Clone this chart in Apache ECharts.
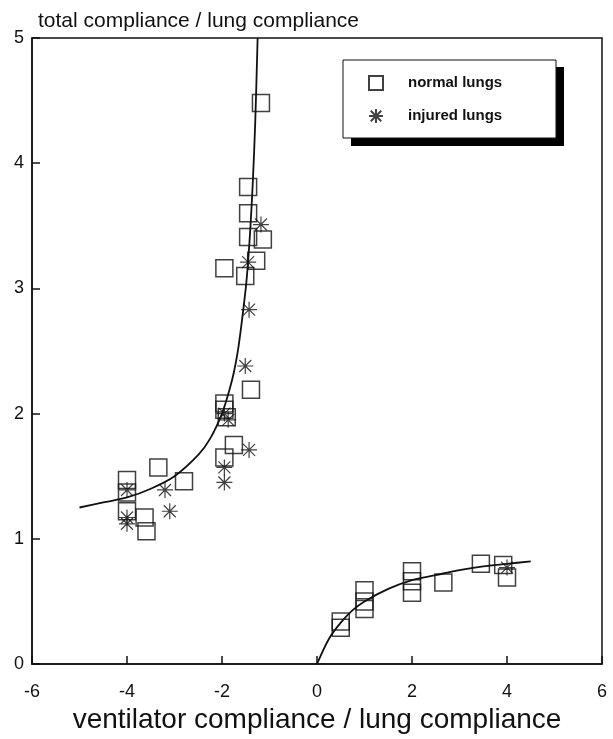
<!DOCTYPE html>
<html><head><meta charset="utf-8">
<script src="https://cdn.jsdelivr.net/npm/echarts@6/dist/echarts.min.js"></script>
<style>html,body{margin:0;padding:0;background:#fff}#c{width:613px;height:739px}</style>
</head><body><div id="c"></div>
<script>
var xTicks = [-6, -4, -2, 0, 2, 4, 6];
var yTicks = [0, 1, 2, 3, 4, 5];
var normalX = [-1.18,-1.45,-1.45,-1.45,-1.14,-1.28,-1.95,-1.51,-1.39,-1.95,-1.95,-1.9,-1.75,-1.95,-4,-4,-4,-3.34,-2.8,-3.63,-3.59,0.5,0.5,1,1,1,2,2,2,2.66,3.45,3.92,4];
var normalY = [4.48,3.81,3.6,3.41,3.39,3.22,3.16,3.1,2.19,2.08,2.03,1.97,1.75,1.65,1.47,1.37,1.22,1.57,1.46,1.17,1.06,0.34,0.29,0.59,0.5,0.44,0.74,0.66,0.57,0.65,0.8,0.79,0.69];
var injuredX = [-1.18,-1.45,-1.43,-1.51,-1.95,-1.87,-1.43,-1.95,-1.95,-3.2,-3.1,-4,-4,-4,4];
var injuredY = [3.51,3.21,2.83,2.38,2.0,1.95,1.71,1.57,1.45,1.39,1.22,1.39,1.17,1.12,0.77];
var fitLeftX = [-5,-4.5,-4,-3.5,-3,-2.5,-2.25,-2,-1.85,-1.75,-1.65,-1.5,-1.45,-1.4,-1.35,-1.3,-1.25];
var fitLeftY = [1.25,1.29,1.33,1.4,1.5,1.67,1.8,2.0,2.18,2.33,2.54,3.0,3.22,3.5,3.86,4.33,5.0];
var fitRightX = [0,0.25,0.5,0.75,1,1.5,2,2.5,3,3.5,4,4.5];
var fitRightY = [0,0.2,0.33,0.43,0.5,0.6,0.67,0.71,0.75,0.78,0.8,0.82];

function zip(a,b){return a.map(function(v,i){return [v,b[i]];});}
var chart = echarts.init(document.getElementById('c'));
var font = '"Liberation Sans", Arial, sans-serif';
var star = 'path://M0,-10L0,10M-10,0L10,0M-7.5,-7.5L7.5,7.5M-7.5,7.5L7.5,-7.5';
chart.setOption({
  animation:false,
  grid:{left:32,right:11,top:38,bottom:75,outerBoundsMode:'none',containLabel:false,show:true,borderColor:'#111',borderWidth:1.5,backgroundColor:'transparent'},
  title:{text:'total compliance / lung compliance',left:33,top:6,textStyle:{fontFamily:font,fontSize:21,fontWeight:'normal',color:'#111'}},
  graphic:[
    {type:'rect',shape:{x:351,y:67,width:213,height:79},style:{fill:'#000'},z:100},
    {type:'rect',shape:{x:343,y:60,width:213,height:78},style:{fill:'#fff',stroke:'#111',lineWidth:1},z:101}
  ],
  xAxis:{type:'value',min:-6,max:6,interval:2,
    name:'ventilator compliance / lung compliance',nameLocation:'middle',nameGap:42,
    nameTextStyle:{fontFamily:font,fontSize:28,color:'#111'},
    axisLine:{show:true,onZero:false,lineStyle:{color:'#111',width:1.5}},
    axisTick:{show:true,inside:true,length:8,lineStyle:{color:'#111',width:1.5}},
    splitLine:{show:false},
    axisLabel:{fontFamily:font,fontSize:18,color:'#111',margin:19,
      formatter:function(v){return xTicks.indexOf(v)>=0?String(v):'';}}},
  yAxis:{type:'value',min:0,max:5,interval:1,
    axisLine:{show:true,onZero:false,lineStyle:{color:'#111',width:1.5}},
    axisTick:{show:true,inside:true,length:8,lineStyle:{color:'#111',width:1.5}},
    splitLine:{show:false},
    axisLabel:{fontFamily:font,fontSize:18,color:'#111',margin:8,
      formatter:function(v){return yTicks.indexOf(v)>=0?String(v):'';}}},
  legend:{orient:'vertical',left:368,top:75,data:['normal lungs','injured lungs'],z:200,
    padding:0,itemGap:17,itemWidth:14,itemHeight:14,
    textStyle:{fontFamily:font,fontSize:15,fontWeight:'bold',color:'#111',padding:[0,0,0,20]}},
  series:[
    {name:'fitL',type:'line',data:zip(fitLeftX,fitLeftY),smooth:0.3,showSymbol:false,symbol:'none',clip:true,
      lineStyle:{color:'#111',width:1.8},z:2},
    {name:'fitR',type:'line',data:zip(fitRightX,fitRightY),smooth:0.3,showSymbol:false,symbol:'none',clip:true,
      lineStyle:{color:'#111',width:1.8},z:2},
    {name:'normal lungs',type:'scatter',data:zip(normalX,normalY),symbol:'rect',symbolSize:17,
      itemStyle:{color:'rgba(255,255,255,0)',borderColor:'#111',borderWidth:1.5},z:3},
    {name:'injured lungs',type:'scatter',data:zip(injuredX,injuredY),symbol:star,symbolSize:16,
      itemStyle:{color:'rgba(255,255,255,0)',borderColor:'#111',borderWidth:1.2},z:4}
  ]
});
</script></body></html>
